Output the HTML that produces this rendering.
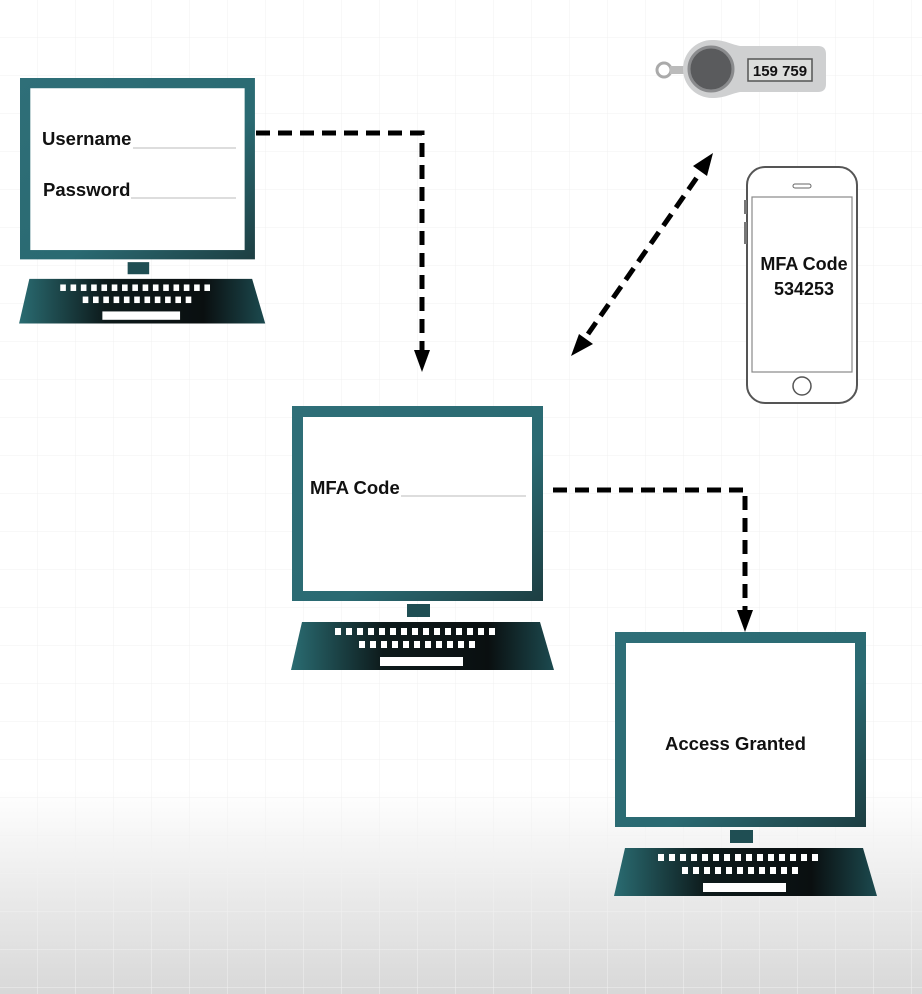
<!DOCTYPE html>
<html><head><meta charset="utf-8"><style>
html,body{margin:0;padding:0;}
body{width:922px;height:994px;overflow:hidden;font-family:"Liberation Sans",sans-serif;
background:linear-gradient(#fff 0,#fff 790px,#e9e9e9 900px,#d8d8d8 994px);}
svg{position:absolute;left:0;top:0}
text{font-family:"Liberation Sans",sans-serif;font-weight:bold;fill:#111}
</style></head><body>
<svg width="922" height="994" viewBox="0 0 922 994">
<defs>
<pattern id="grid" width="38" height="38" patternUnits="userSpaceOnUse">
<path d="M38 0V38H0" fill="none" stroke="#f1f1f1" stroke-width="1"/>
</pattern>
<linearGradient id="frame" x1="0" y1="0" x2="1" y2="1">
<stop offset="0" stop-color="#2f6f78"/><stop offset="0.6" stop-color="#2a6a72"/><stop offset="1" stop-color="#1d3e42"/>
</linearGradient>
<linearGradient id="kb" x1="0" y1="0" x2="1" y2="0">
<stop offset="0" stop-color="#2a6c72"/><stop offset="0.35" stop-color="#0d1a1b"/><stop offset="0.75" stop-color="#0a0f10"/><stop offset="1" stop-color="#1c4a4f"/>
</linearGradient>
<g id="comp">
<rect x="0" y="0" width="251" height="195" fill="url(#frame)"/>
<rect x="11" y="11" width="229" height="174" fill="#fff"/>
<rect x="115" y="198" width="23" height="13" fill="#1f4e53"/>
<polygon points="10,216 248,216 262,264 -1,264" fill="url(#kb)"/>
<g fill="#fff">
<rect x="43" y="222" width="6" height="7"/><rect x="54" y="222" width="6" height="7"/><rect x="65" y="222" width="6" height="7"/><rect x="76" y="222" width="6" height="7"/><rect x="87" y="222" width="6" height="7"/><rect x="98" y="222" width="6" height="7"/><rect x="109" y="222" width="6" height="7"/><rect x="120" y="222" width="6" height="7"/><rect x="131" y="222" width="6" height="7"/><rect x="142" y="222" width="6" height="7"/><rect x="153" y="222" width="6" height="7"/><rect x="164" y="222" width="6" height="7"/><rect x="175" y="222" width="6" height="7"/><rect x="186" y="222" width="6" height="7"/><rect x="197" y="222" width="6" height="7"/>
<rect x="67" y="235" width="6" height="7"/><rect x="78" y="235" width="6" height="7"/><rect x="89" y="235" width="6" height="7"/><rect x="100" y="235" width="6" height="7"/><rect x="111" y="235" width="6" height="7"/><rect x="122" y="235" width="6" height="7"/><rect x="133" y="235" width="6" height="7"/><rect x="144" y="235" width="6" height="7"/><rect x="155" y="235" width="6" height="7"/><rect x="166" y="235" width="6" height="7"/><rect x="177" y="235" width="6" height="7"/>
<rect x="88" y="251" width="83" height="9"/>
</g>
</g>
</defs>
<rect width="922" height="994" fill="url(#grid)"/>

<use href="#comp" transform="translate(20,78) scale(0.936,0.93)"/>
<use href="#comp" transform="translate(292,406)"/>
<use href="#comp" transform="translate(615,632)"/>

<text x="42" y="145" font-size="18.5">Username</text>
<line x1="133" y1="148" x2="236" y2="148" stroke="#bbb"/>
<text x="43" y="196" font-size="18.5">Password</text>
<line x1="131" y1="198" x2="236" y2="198" stroke="#bbb"/>
<text x="310" y="494" font-size="18.5">MFA Code</text>
<line x1="401" y1="496" x2="526" y2="496" stroke="#bbb"/>
<text x="665" y="750" font-size="18.5">Access Granted</text>

<g fill="none" stroke="#000" stroke-width="5" stroke-dasharray="14 8">
<path d="M256 133H422V352"/>
<path d="M553 490H745V612"/>
<line x1="588" y1="334" x2="700" y2="173"/>
</g>
<polygon points="414,350 430,350 422,372" fill="#000"/>
<polygon points="737,610 753,610 745,632" fill="#000"/>
<polygon points="571,356 579,334 593,344" fill="#000"/>
<polygon points="713,153 707,176 693,166" fill="#000"/>

<!-- phone -->
<rect x="747" y="167" width="110" height="236" rx="18" fill="#fff" stroke="#555" stroke-width="2"/>
<rect x="752" y="197" width="100" height="175" fill="#fff" stroke="#888" stroke-width="1.2"/>
<rect x="793" y="184" width="18" height="4" rx="2" fill="none" stroke="#666"/>
<circle cx="802" cy="386" r="9" fill="none" stroke="#555" stroke-width="1.5"/>
<rect x="744" y="200" width="3" height="14" fill="#777"/>
<rect x="744" y="222" width="3" height="22" fill="#777"/>
<text x="804" y="270" font-size="18" text-anchor="middle">MFA Code</text>
<text x="804" y="295" font-size="18" text-anchor="middle">534253</text>

<!-- token -->
<circle cx="664" cy="70" r="7" fill="none" stroke="#aaa" stroke-width="3"/>
<rect x="670" y="66" width="14" height="8" fill="#bbb"/>
<path d="M712 40 C725 40 730 44 740 46 H818 Q826 46 826 54 V84 Q826 92 818 92 H740 C730 94 725 98 712 98 A29 29 0 0 1 712 40z" fill="#cfd0d1"/>
<circle cx="711" cy="69" r="22" fill="#5a5b5d" stroke="#8a8b8d" stroke-width="3"/>
<rect x="748" y="59" width="64" height="22" fill="#dcdedc" stroke="#555" stroke-width="1.5"/>
<text x="780" y="76" font-size="15" font-weight="normal" text-anchor="middle" fill="#444">159 759</text>
</svg>
</body></html>
